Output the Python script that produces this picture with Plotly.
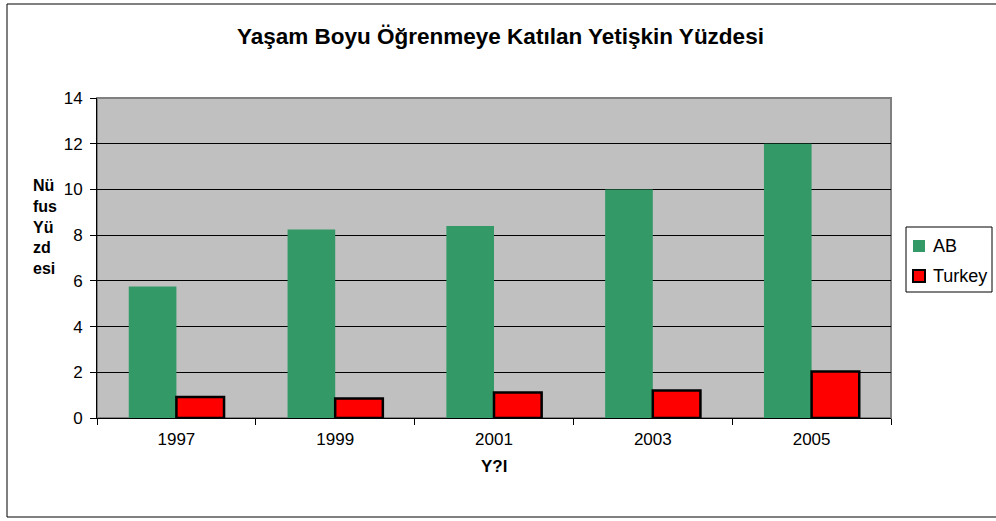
import plotly.graph_objects as go

years = ["1997", "1999", "2001", "2003", "2005"]
ab_values = [5.75, 8.25, 8.4, 10.0, 12.0]
turkey_values = [0.92, 0.85, 1.12, 1.2, 2.03]
y_ticks = [0, 2, 4, 6, 8, 10, 12, 14]
series_names = ["AB", "Turkey"]
series_colors = ["#339966", "#FF0000"]

title_text = "Yaşam Boyu Öğrenmeye Katılan Yetişkin Yüzdesi"
x_title = "Y?l"
y_title = "Nü<br>fus<br>Yü<br>zd<br>esi"

FONT = "Liberation Sans, Arial, sans-serif"

W, H = 996, 521
L, R, T, B = 97, 105, 98, 103
pw = W - L - R
ph = H - T - B


def px(x):
    return (x - L) / pw


def py(y):
    return (H - B - y) / ph


fig = go.Figure()
fig.add_trace(go.Bar(x=years, y=ab_values, name=series_names[0],
                     marker=dict(color=series_colors[0], line=dict(width=0))))
fig.add_trace(go.Bar(x=years, y=turkey_values, name=series_names[1],
                     marker=dict(color=series_colors[1], line=dict(color="black", width=2.5))))

fig.update_layout(
    width=W, height=H,
    margin=dict(l=L, r=R, t=T, b=B, autoexpand=False),
    paper_bgcolor="white",
    plot_bgcolor="#C0C0C0",
    barmode="group",
    bargap=0.40,
    bargroupgap=0.0,
    showlegend=False,
    font=dict(family=FONT, size=17, color="black"),
    xaxis=dict(type="category", showline=True, linecolor="black", linewidth=1,
               ticks="outside", tickson="boundaries", ticklen=6, tickcolor="black",
               showgrid=False, ticklabelstandoff=6, tickfont=dict(size=17)),
    yaxis=dict(range=[0, 14], tickvals=y_ticks, showline=True, linecolor="black",
               linewidth=1, ticks="outside", ticklen=6, tickcolor="black",
               showgrid=True, gridcolor="black", gridwidth=1, zeroline=False,
               tickfont=dict(size=17), ticklabelstandoff=4),
)

# plot area outline (gray)
fig.add_shape(type="rect", xref="paper", yref="paper", x0=0, x1=1, y0=0, y1=1,
              line=dict(color="#808080", width=2), layer="below")
# outer chart border
fig.add_shape(type="rect", xref="paper", yref="paper",
              x0=px(7), x1=px(1005), y0=py(517), y1=py(4),
              line=dict(color="black", width=1))

# title
fig.add_annotation(text="<b>" + title_text + "</b>", xref="paper", yref="paper",
                   x=px(500), y=py(37), showarrow=False, xanchor="center", yanchor="middle",
                   font=dict(size=22.5, family=FONT))
# x axis title
fig.add_annotation(text="<b>" + x_title + "</b>", xref="paper", yref="paper",
                   x=px(494), y=py(466), showarrow=False, xanchor="center", yanchor="middle",
                   font=dict(size=17, family=FONT))
# y axis title
fig.add_annotation(text="<b>" + y_title + "</b>", xref="paper", yref="paper",
                   x=px(31), y=py(227), showarrow=False,
                   xanchor="left", yanchor="middle", align="left",
                   font=dict(size=16, family=FONT))

# legend box
fig.add_shape(type="rect", xref="paper", yref="paper",
              x0=px(906), x1=px(992), y0=py(292), y1=py(227),
              line=dict(color="black", width=1), fillcolor="white")
row_y = [246, 276]
for name, color, ry, border in zip(series_names, series_colors, row_y, [0, 2]):
    fig.add_shape(type="rect", xref="paper", yref="paper",
                  x0=px(913), x1=px(925), y0=py(ry + 6), y1=py(ry - 6),
                  fillcolor=color,
                  line=dict(color="black" if border else color, width=border if border else 0))
    fig.add_annotation(text=name, xref="paper", yref="paper", x=px(931), y=py(ry),
                       showarrow=False, xanchor="left", yanchor="middle",
                       font=dict(size=18, family=FONT))

fig.write_html("out.html", config={"displayModeBar": False},
               post_script="document.body.style.margin='0';document.body.style.overflow='hidden';")
